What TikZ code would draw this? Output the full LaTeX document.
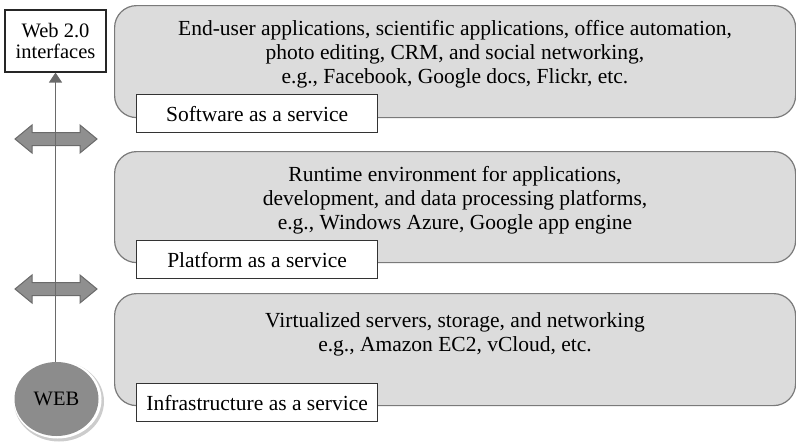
\documentclass[tikz,border=0pt]{standalone}
\usepackage{fontspec}
\setmainfont{Liberation Serif}
\usetikzlibrary{shapes.geometric,arrows.meta}
\definecolor{panelfill}{HTML}{DCDCDC}
\definecolor{panelline}{HTML}{7A7A7A}
\definecolor{arrowfill}{HTML}{8F8F8F}
\definecolor{arrowline}{HTML}{6A6A6A}
\definecolor{webfill}{HTML}{8C8C8C}
\tikzset{
  panel/.style={draw=panelline, fill=panelfill, line width=1.2pt, rounded corners=22pt,
    anchor=north west, minimum width=681pt, minimum height=112pt, inner sep=0pt},
  tag/.style={draw=black!80, fill=white, line width=1.2pt, anchor=north west,
    minimum width=241pt, minimum height=38pt, inner sep=0pt, font=\fontsize{21.5}{24}\selectfont},
  blurb/.style={align=center, font=\fontsize{21.5}{24}\selectfont, inner sep=0pt},
  link/.style={draw=arrowline, line width=1.5pt},
  pics/swaparrow/.style={code={
    \draw[draw=arrowline, fill=arrowfill, line width=1pt]
      (-41,0) -- (-24,-14) -- (-24,-6.5) -- (24,-6.5) -- (24,-14) -- (41,0)
      -- (24,14) -- (24,6.5) -- (-24,6.5) -- (-24,14) -- cycle;
  }}
}
\begin{document}
\begin{tikzpicture}[x=1pt,y=-1pt]
\useasboundingbox (0,0) rectangle (796,442);

% service layers
\node[panel] (saas) at (114,5) {};
\node[panel, minimum height=111pt] (paas) at (114,151) {};
\node[panel, minimum height=112pt] (iaas) at (114,293) {};

\node[blurb] (saastext) at (455,54) {End-user applications, scientific applications, office automation,\\photo editing, CRM, and social networking,\\e.g., Facebook, Google docs, Flickr, etc.};
\node[blurb] (paastext) at (455,200) {Runtime environment for applications,\\development, and data processing platforms,\\e.g., Windows Azure, Google app engine};
\node[blurb] (iaastext) at (455,334) {Virtualized servers, storage, and networking\\e.g., Amazon EC2, vCloud, etc.};

\node[tag] (saastag) at (136,94) {Software as a service};
\node[tag] (paastag) at (136,240) {Platform as a service};
\node[tag] (iaastag) at (136,383) {Infrastructure as a service};

% client side
\node[draw=black!85, fill=white, line width=1.2pt, minimum width=101pt, minimum height=62pt,
  inner sep=0pt, align=center, font=\fontsize{20.5}{21}\selectfont] (web20) at (55.5,41) {Web 2.0\\interfaces};

\fill[gray!40] (59,401.5) ellipse (45 and 40);
\fill[white] (57.5,399.5) ellipse (44 and 39);
\node[ellipse, fill=webfill, minimum width=84pt, minimum height=74pt, inner sep=0pt,
  font=\fontsize{20.5}{21}\selectfont] (web) at (56.5,399) {WEB};

% two-way exchange between the layers
\pic at (56,139) {swaparrow};
\pic at (56,289) {swaparrow};

\draw[link, -{Triangle[length=10pt,width=13pt]}] (web.north -| web20.south) -- (web20.south);
\end{tikzpicture}
\end{document}
